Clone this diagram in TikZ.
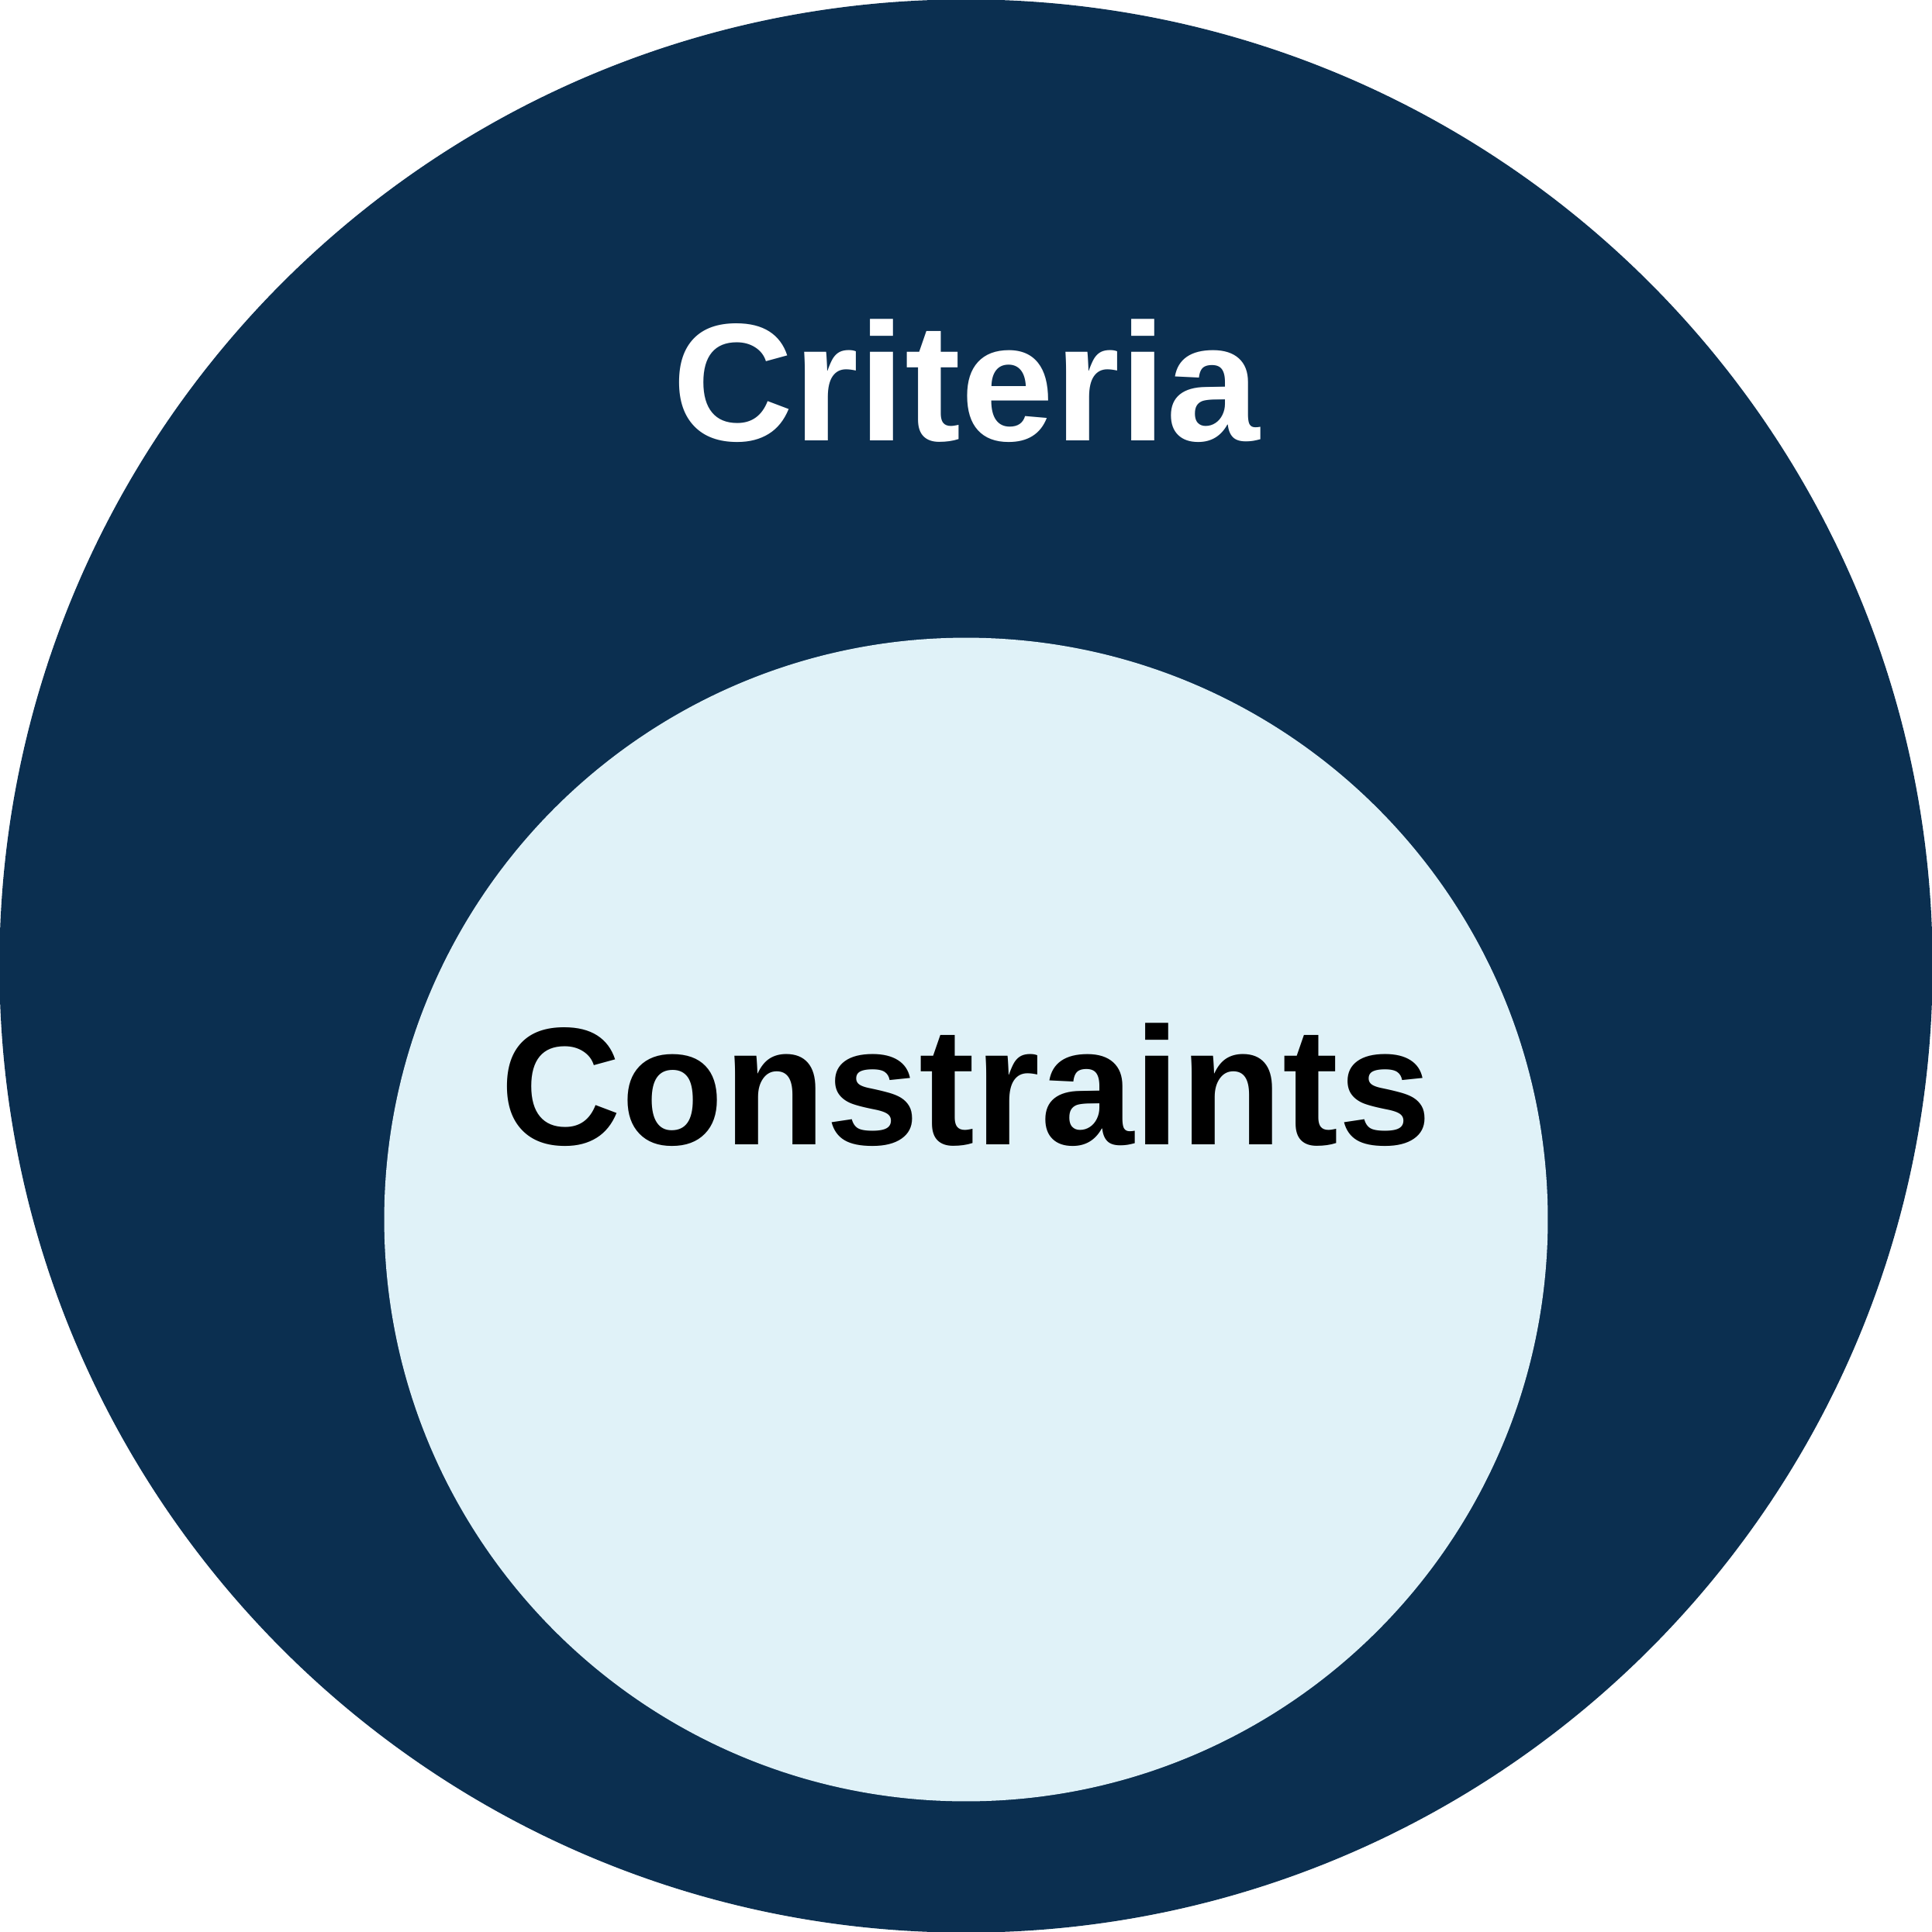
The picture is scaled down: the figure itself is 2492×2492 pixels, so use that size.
\documentclass[tikz,border=0pt]{standalone}
\usepackage{fontspec}
\setmainfont{Liberation Sans}
\definecolor{navy}{HTML}{0B2F50}
\definecolor{paleblue}{HTML}{E0F2F8}
\tikzset{
  lbl/.style={font=\bfseries\fontsize{61.5}{72}\selectfont, anchor=base, inner sep=0pt}
}
\begin{document}
\begin{tikzpicture}[x=0.01cm,y=-0.01cm]
\useasboundingbox (0,0) rectangle (2492,2492);
\node[circle, fill=navy, minimum size=24.92cm, inner sep=0pt] (outer) at (1246,1246) {};
\node[circle, fill=paleblue, minimum size=15.0cm, inner sep=0pt] (inner) at (1246,1573) {};
\node[lbl, text=white] (criteria) at (1246,569) {Criteria};
\node[lbl, text=black] (constraints) at (1246,1476) {Constraints};
\end{tikzpicture}
\end{document}
